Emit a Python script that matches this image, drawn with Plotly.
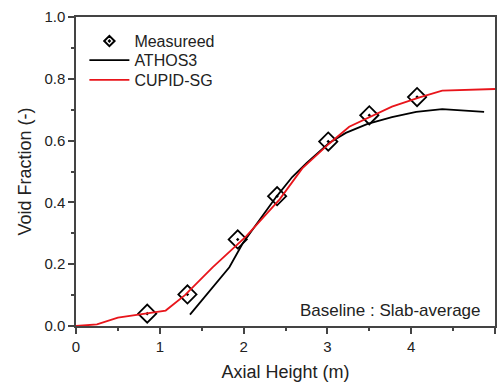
import plotly.graph_objects as go

meas_x = [0.85, 1.33, 1.93, 2.40, 3.01, 3.50, 4.07]
meas_y = [0.040, 0.102, 0.280, 0.420, 0.597, 0.682, 0.741]

athos_x = [1.36, 1.63, 1.83, 1.99, 2.19, 2.39, 2.58, 2.75, 3.02, 3.22, 3.48, 3.77, 4.06, 4.37, 4.87]
athos_y = [0.037, 0.125, 0.190, 0.268, 0.343, 0.418, 0.482, 0.527, 0.592, 0.625, 0.654, 0.676, 0.693, 0.702, 0.693]

cupid_x = [0.0, 0.25, 0.50, 0.85, 1.07, 1.30, 1.63, 2.03, 2.43, 2.70, 3.02, 3.26, 3.77, 4.10, 4.37, 5.00]
cupid_y = [0.0, 0.005, 0.027, 0.040, 0.050, 0.100, 0.190, 0.290, 0.410, 0.510, 0.590, 0.645, 0.710, 0.740, 0.762, 0.767]

font = "Liberation Sans, Arial, sans-serif"
txt = "#222"

fig = go.Figure()
fig.add_trace(go.Scatter(x=meas_x, y=meas_y, mode="markers", name="Measureed",
                         showlegend=False,
                         marker=dict(symbol="diamond-open-dot", size=14, color="black",
                                     line=dict(width=1.8, color="black"))))
# legend-only entry with smaller marker, as in the reference legend
fig.add_trace(go.Scatter(x=[None], y=[None], mode="markers", name="Measureed",
                         legend="legend",
                         marker=dict(symbol="diamond-open-dot", size=8, color="black",
                                     line=dict(width=2, color="black"))))
fig.add_trace(go.Scatter(x=athos_x, y=athos_y, mode="lines", name="ATHOS3",
                         legend="legend2",
                         line=dict(color="black", width=1.8)))
fig.add_trace(go.Scatter(x=cupid_x, y=cupid_y, mode="lines", name="CUPID-SG",
                         legend="legend3",
                         line=dict(color="#e8151b", width=1.8)))

fig.add_annotation(x=4.86, y=0.049, xref="x", yref="y", text="Baseline : Slab-average",
                   showarrow=False, xanchor="right", yanchor="middle",
                   font=dict(size=17, color=txt, family=font))

axis_common = dict(showgrid=False, zeroline=False, showline=True, linecolor="#444",
                   linewidth=1.5, mirror=True, ticks="outside", ticklen=6,
                   tickcolor="#444", tickwidth=1.5,
                   tickfont=dict(size=15, color=txt, family=font))

fig.update_xaxes(range=[0, 5], dtick=1, title=dict(text="Axial Height (m)",
                 font=dict(size=18, color=txt, family=font), standoff=12),
                 minor=dict(dtick=0.5, ticks="outside", ticklen=3.5, tickcolor="#444"),
                 **axis_common)
fig.update_yaxes(range=[0, 1.0], dtick=0.2, tickformat=".1f",
                 title=dict(text="Void Fraction (-)",
                            font=dict(size=18, color=txt, family=font), standoff=8),
                 minor=dict(dtick=0.1, ticks="outside", ticklen=3.5, tickcolor="#444"),
                 **axis_common)

leg = dict(x=0.02, xanchor="left", yanchor="middle", bgcolor="rgba(0,0,0,0)",
           font=dict(size=16, color=txt, family=font), itemwidth=40)

fig.update_layout(
    width=498, height=385,
    margin=dict(l=76, r=1, t=17, b=59),
    plot_bgcolor="white", paper_bgcolor="white",
    showlegend=True,
    legend=dict(y=0.922, **leg),
    legend2=dict(y=0.860, **leg),
    legend3=dict(y=0.796, **leg),
)

fig.write_html("out.html")
